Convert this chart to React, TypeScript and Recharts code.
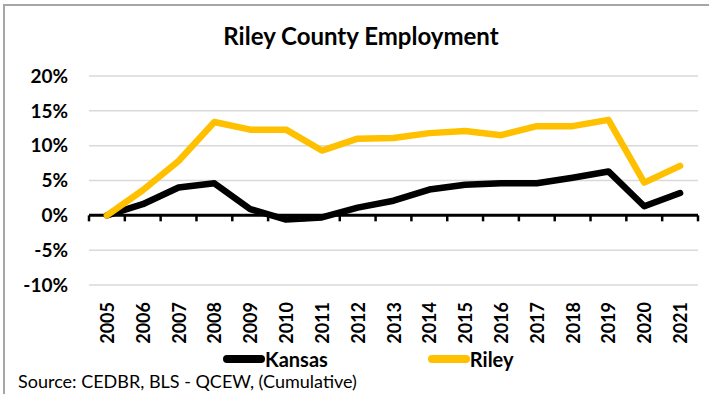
import React from 'react';
import { LineChart, Line, XAxis, YAxis, CartesianGrid, ReferenceLine } from 'recharts';

// Cumulative employment change since 2005, in percent
const years = ['2005', '2006', '2007', '2008', '2009', '2010', '2011', '2012', '2013', '2014', '2015', '2016', '2017', '2018', '2019', '2020', '2021'];
const kansas = [0, 1.6, 4.0, 4.6, 0.9, -0.6, -0.3, 1.1, 2.1, 3.7, 4.4, 4.6, 4.6, 5.4, 6.3, 1.3, 3.2];
const riley = [0, 3.6, 7.8, 13.4, 12.3, 12.3, 9.3, 11.0, 11.1, 11.8, 12.1, 11.5, 12.8, 12.8, 13.7, 4.7, 7.1];
const yTicks = [-10, -5, 0, 5, 10, 15, 20];

const series = [
  { key: 'Kansas', color: '#000000' },
  { key: 'Riley', color: '#FFC000' },
];

const data = years.map((year, i) => ({ year, Kansas: kansas[i], Riley: riley[i] }));

const FONT = 'Lato, "Open Sans", sans-serif';

const YearTick = (props: any) => {
  const { x, y, payload } = props;
  return (
    <text
      x={x}
      y={y}
      transform={`rotate(-90, ${x}, ${y})`}
      textAnchor="end"
      dominantBaseline="central"
      fontFamily={FONT}
      fontSize={18}
      fontWeight={700}
      fill="#000"
    >
      {payload.value}
    </text>
  );
};

// zero line drawn like Excel's category axis, with tick marks between categories
const ZeroAxis = (props: any) => {
  const { x1, x2, y1 } = props;
  const step = (x2 - x1) / years.length;
  const marks = [];
  for (let i = 0; i <= years.length; i++) {
    const x = x1 + step * i;
    marks.push(<line key={i} x1={x} x2={x} y1={y1} y2={y1 + 6} stroke="#000" strokeWidth={2.5} />);
  }
  return (
    <g>
      <line x1={x1} x2={x2} y1={y1} y2={y1} stroke="#000" strokeWidth={3} />
      {marks}
    </g>
  );
};

export default function App() {
  return (
    <div style={{ position: 'absolute', top: 0, left: 0, width: 709, height: 394, background: '#fff', overflow: 'hidden', fontFamily: FONT }}>
      <div style={{ position: 'absolute', top: 4, left: 3, right: 0, bottom: 0, borderTop: '2px solid #a6a6a6', borderLeft: '2px solid #a6a6a6' }} />
      <div style={{ position: 'absolute', top: 21, left: 0, width: 722, textAlign: 'center', fontSize: 24, fontWeight: 700, lineHeight: '30px', color: '#000' }}>
        Riley County Employment
      </div>
      <div style={{ position: 'absolute', top: 0, left: 0 }}>
        <LineChart width={709} height={394} data={data} margin={{ top: 76, right: 11, bottom: 0, left: 0 }}>
          <CartesianGrid vertical={false} stroke="#d9d9d9" strokeWidth={1.5} />
          <XAxis
            dataKey="year"
            scale="band"
            interval={0}
            height={109}
            axisLine={false}
            tickLine={false}
            tickSize={0}
            tickMargin={17}
            tick={<YearTick />}
          />
          <YAxis
            width={89}
            domain={[-10, 20]}
            ticks={yTicks}
            interval={0}
            axisLine={false}
            tickLine={false}
            tickSize={0}
            tickMargin={21}
            tickFormatter={(v: number) => `${v}%`}
            tick={{ fill: '#000', fontSize: 19, fontWeight: 700, fontFamily: FONT }}
          />
          <ReferenceLine y={0} shape={<ZeroAxis />} />
          {series.map((s) => (
            <Line
              key={s.key}
              dataKey={s.key}
              stroke={s.color}
              strokeWidth={6.5}
              strokeLinecap="round"
              strokeLinejoin="round"
              dot={false}
              isAnimationActive={false}
            />
          ))}
        </LineChart>
      </div>
      <div style={{ position: 'absolute', top: 349, left: 223, display: 'flex', gap: 100, alignItems: 'center' }}>
        {series.map((s) => (
          <div key={s.key} style={{ display: 'flex', alignItems: 'center' }}>
            <div style={{ width: 42, height: 8, borderRadius: 4, background: s.color }} />
            <span style={{ fontSize: 20, fontWeight: 700, lineHeight: '20px', color: '#000' }}>{s.key}</span>
          </div>
        ))}
      </div>
      <div style={{ position: 'absolute', top: 371, left: 18, fontSize: 18, lineHeight: '20px', color: '#000' }}>
        Source: CEDBR, BLS - QCEW, (Cumulative)
      </div>
    </div>
  );
}
